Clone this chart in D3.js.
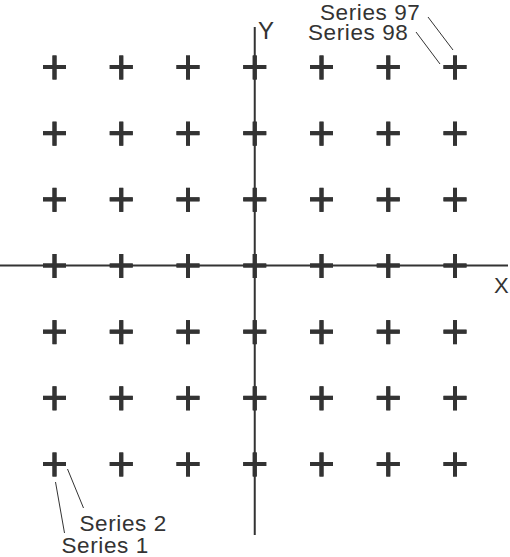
<!DOCTYPE html>
<html>
<head>
<meta charset="utf-8">
<script src="https://cdn.jsdelivr.net/npm/d3@7"></script>
<style>
  html, body { margin: 0; padding: 0; background: #fff; }
  svg { display: block; }
  text { font-family: "Liberation Sans", Arial, Helvetica, sans-serif; fill: #333; }
</style>
</head>
<body>
<svg id="chart" width="510" height="557"></svg>
<script>
// ---- data ----
const seriesNames = Array.from({length: 98}, (_, i) => "Series " + (i + 1));
const seriesX = [
  -3,-3,-3,-3,-3,-3,-3,-3,-3,-3,-3,-3,-3,-3,
  -2,-2,-2,-2,-2,-2,-2,-2,-2,-2,-2,-2,-2,-2,
  -1,-1,-1,-1,-1,-1,-1,-1,-1,-1,-1,-1,-1,-1,
   0, 0, 0, 0, 0, 0, 0, 0, 0, 0, 0, 0, 0, 0,
   1, 1, 1, 1, 1, 1, 1, 1, 1, 1, 1, 1, 1, 1,
   2, 2, 2, 2, 2, 2, 2, 2, 2, 2, 2, 2, 2, 2,
   3, 3, 3, 3, 3, 3, 3, 3, 3, 3, 3, 3, 3, 3
];
const seriesY = [
  -3,-3,-2,-2,-1,-1,0,0,1,1,2,2,3,3,
  -3,-3,-2,-2,-1,-1,0,0,1,1,2,2,3,3,
  -3,-3,-2,-2,-1,-1,0,0,1,1,2,2,3,3,
  -3,-3,-2,-2,-1,-1,0,0,1,1,2,2,3,3,
  -3,-3,-2,-2,-1,-1,0,0,1,1,2,2,3,3,
  -3,-3,-2,-2,-1,-1,0,0,1,1,2,2,3,3,
  -3,-3,-2,-2,-1,-1,0,0,1,1,2,2,3,3
];
const labeledSeries = ["Series 1", "Series 2", "Series 97", "Series 98"];
const axisLabels = ["X", "Y"];

// ---- layout ----
const svg = d3.select("#chart");
const x = d3.scaleLinear().domain([-3, 3]).range([54.5, 455]);
const y = d3.scaleLinear().domain([-3, 3]).range([464, 67]);
const ink = "#333";

const points = seriesNames.map((name, i) => ({ name, x: seriesX[i], y: seriesY[i] }));

// axes
svg.append("line")
  .attr("x1", 0).attr("x2", 508)
  .attr("y1", y(0)).attr("y2", y(0))
  .attr("stroke", ink).attr("stroke-width", 2);
svg.append("line")
  .attr("x1", x(0)).attr("x2", x(0))
  .attr("y1", 27).attr("y2", 535)
  .attr("stroke", ink).attr("stroke-width", 2);

// markers
const half = 11.5;
const g = svg.append("g");
const m = g.selectAll("g.pt").data(points).join("g")
  .attr("class", "pt")
  .attr("transform", d => `translate(${x(d.x)},${y(d.y)})`);
m.append("line").attr("x1", -half).attr("x2", half).attr("y1", 0).attr("y2", 0)
  .attr("stroke", ink).attr("stroke-width", 4);
m.append("line").attr("x1", 0).attr("x2", 0).attr("y1", -half).attr("y2", half + 1)
  .attr("stroke", ink).attr("stroke-width", 4);

// axis labels
svg.append("text").text(axisLabels[0]).attr("x", 494).attr("y", 293).attr("font-size", 22);
svg.append("text").text(axisLabels[1]).attr("x", 258).attr("y", 39).attr("font-size", 24);

// data labels with leader lines (offsets relative to point)
const labelLayout = {
  "Series 1":  { tx: 7,   ty: 89,  lx1: 1,   ly1: 18,  lx2: 10,  ly2: 69 },
  "Series 2":  { tx: 25,  ty: 67,  lx1: 13,  ly1: 5,   lx2: 29,  ly2: 44 },
  "Series 97": { tx: -135, ty: -47, lx1: -27, ly1: -50, lx2: -2,  ly2: -17 },
  "Series 98": { tx: -147, ty: -27, lx1: -39, ly1: -35, lx2: -15, ly2: -3 }
};
labeledSeries.forEach(name => {
  const p = points.find(d => d.name === name);
  const L = labelLayout[name];
  const px = x(p.x), py = y(p.y);
  svg.append("line")
    .attr("x1", px + L.lx1).attr("y1", py + L.ly1)
    .attr("x2", px + L.lx2).attr("y2", py + L.ly2)
    .attr("stroke", ink).attr("stroke-width", 1);
  svg.append("text").text(name)
    .attr("x", px + L.tx).attr("y", py + L.ty)
    .attr("font-size", 22.5)
    .attr("letter-spacing", 0.6);
});
</script>
</body>
</html>
